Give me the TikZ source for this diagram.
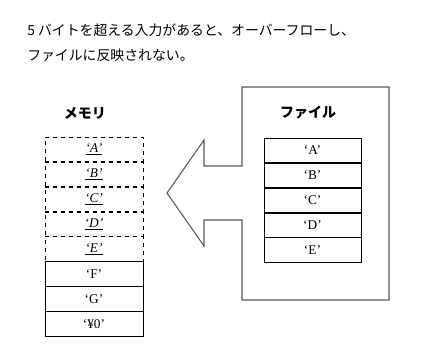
\documentclass[tikz,border=0pt]{standalone}
\usepackage{fontspec}
\setmainfont{Liberation Serif}
\newfontfamily\jpfont{Noto Sans CJK JP}
\usetikzlibrary{positioning}

\begin{document}
\begin{tikzpicture}[
  x=0.75pt, y=-0.75pt,
  cell/.style={draw, minimum width=73.5pt, minimum height=18.3pt, inner sep=0pt, font=\normalsize},
  dcell/.style={cell, dashed},
  fcell/.style={cell, minimum width=72.75pt},
  title/.style={font=\jpfont\bfseries\fontsize{10.5}{12}\selectfont},
  msg/.style={anchor=west, inner sep=0pt, font=\jpfont\fontsize{10.4}{12}\selectfont},
]
\useasboundingbox (0,0) rectangle (422,356);

% text above
\node[msg] (line1) at (27,30) {5 バイトを超える入力があると、オーバーフローし、};
\node[msg] (line2) at (27,55) {ファイルに反映されない。};

% file box with the arrow
\draw[gray!70!black, line width=0.8pt] (242,87) -- (389,87) -- (389,300) -- (242,300) -- (242,220)
  -- (204,220) -- (204,246) -- (167,193) -- (204,140) -- (204,166) -- (242,166) -- cycle;

% memory
\node[title] (memtitle) at (85,113) {メモリ};
\node[dcell] (m1) at (94,149.2) {\underline{\textit{‘A’}}};
\node[dcell, below=0pt of m1] (m2) {\underline{\textit{‘B’}}};
\node[dcell, below=0pt of m2] (m3) {\underline{\textit{‘C’}}};
\node[dcell, below=0pt of m3] (m4) {\underline{\textit{‘D’}}};
\node[dcell, below=0pt of m4] (m5) {\underline{\textit{‘E’}}};
\node[cell, below=0pt of m5] (m6) {‘F’};
\node[cell, below=0pt of m6] (m7) {‘G’};
\node[cell, below=0pt of m7] (m8) {‘¥0’};

% file
\node[title] (filetitle) at (308,112) {ファイル};
\node[fcell] (f1) at (312.5,150.2) {‘A’};
\node[fcell, below=0pt of f1] (f2) {‘B’};
\node[fcell, below=0pt of f2] (f3) {‘C’};
\node[fcell, below=0pt of f3] (f4) {‘D’};
\node[fcell, below=0pt of f4] (f5) {‘E’};
\end{tikzpicture}
\end{document}
